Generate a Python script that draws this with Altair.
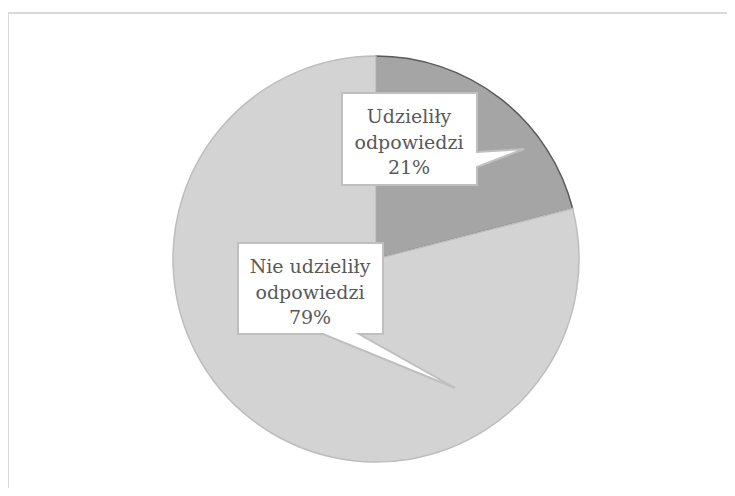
import altair as alt
import pandas as pd

# ---- data ----
categories = ["Udzieliły odpowiedzi", "Nie udzieliły odpowiedzi"]
values = [21, 79]
slice_order = [0, 1]
fill_colors = ["#a5a5a5", "#d3d3d3"]
stroke_colors = ["#5a5a5a", "#bdbdbd"]

labels = [c.rsplit(" ", 1)[0] + "\n" + c.rsplit(" ", 1)[1] + "\n" + f"{v}%" for c, v in zip(categories, values)]
df = pd.DataFrame({"category": categories, "value": values, "order": slice_order, "label": labels})

# ---- layout (pixels in the plot area) ----
W, H = 719, 475
CX, CY = 368, 246
R = 203

FONT = "DejaVu Serif"
TEXT_COLOR = "#595959"
BOX_STROKE = "#bfbfbf"

pie = alt.Chart(df).mark_arc(radius=R, strokeWidth=1.5).encode(
    theta=alt.Theta("value:Q", stack=True),
    order=alt.Order("order:Q"),
    color=alt.Color("category:N", scale=alt.Scale(domain=categories, range=fill_colors), legend=None),
    stroke=alt.Stroke("category:N", scale=alt.Scale(domain=categories, range=stroke_colors), legend=None),
    x=alt.value(CX),
    y=alt.value(CY),
)

# callout shapes (box + pointer), path coordinates scaled by 100 px
callout1_path = "M-0.675,-0.46 L0.675,-0.46 L0.675,0.13 L1.145,0.10 L0.675,0.28 L0.675,0.46 L-0.675,0.46 Z"
callout2_path = "M-0.725,-0.455 L0.725,-0.455 L0.725,0.455 L0.485,0.455 L1.445,0.995 L0.125,0.455 L-0.725,0.455 Z"

def callout(cat, path, px, py, tx, ty):
    base = alt.Chart(df).transform_filter(alt.datum.category == cat)
    shape = base.mark_point(
        shape=path, size=40000, filled=True, fill="white", stroke=BOX_STROKE,
        strokeWidth=2, opacity=1, fillOpacity=1, strokeOpacity=1,
    ).encode(x=alt.value(px), y=alt.value(py))
    text = base.mark_text(
        font=FONT, fontSize=19, color=TEXT_COLOR, lineBreak="\n", lineHeight=25.5,
        align="center", baseline="middle",
    ).encode(x=alt.value(tx), y=alt.value(ty), text="label:N")
    return shape + text

c1 = callout(categories[0], callout1_path, 401.5, 126, 401, 104)
c2 = callout(categories[1], callout2_path, 302.5, 275.5, 302, 254)

frame_top = alt.Chart(df).mark_rule(color="#d9d9d9", strokeWidth=2).encode(
    x=alt.value(0), x2=alt.value(W + 20), y=alt.value(0)
)
frame_left = alt.Chart(df).mark_rule(color="#d9d9d9", strokeWidth=2).encode(
    x=alt.value(0), y=alt.value(0), y2=alt.value(H + 20)
)

chart = alt.layer(pie, c1, c2, frame_top, frame_left).properties(
    width=W, height=H,
    autosize=alt.AutoSizeParams(type="none"),
    padding={"left": 0, "top": 5, "right": 0, "bottom": 0},
    background="white",
).configure_view(stroke=None)

chart.save("out.html", embed_options={"renderer": "svg", "actions": False})
